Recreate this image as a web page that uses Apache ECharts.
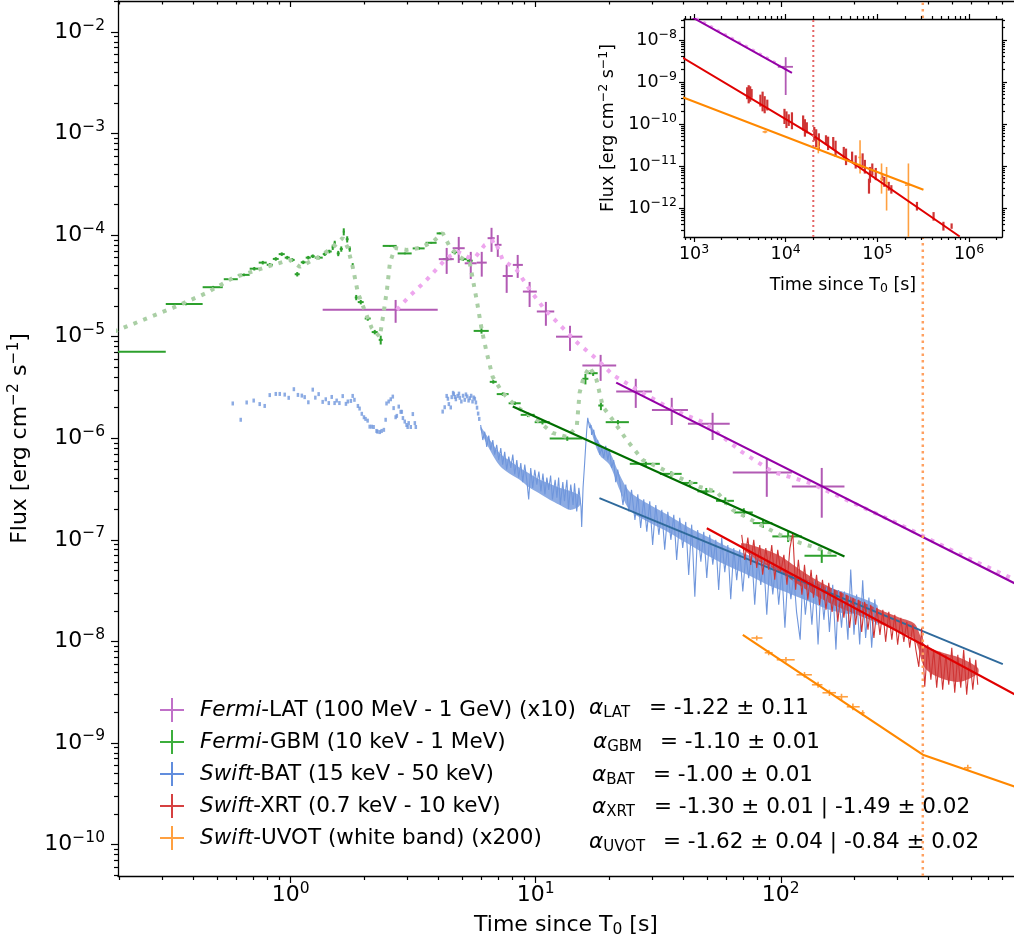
<!DOCTYPE html>
<html>
<head>
<meta charset="utf-8">
<script src="https://cdn.jsdelivr.net/npm/echarts@6/dist/echarts.min.js"></script>
<style>
  html, body { margin: 0; padding: 0; background: #fff; }
  #chart { width: 1014px; height: 945px; }
</style>
</head>
<body>
<div id="chart"></div>
<script>
const lg = Math.log10;
const FONT = 'DejaVu Sans';

// Fermi-LAT (x10): t, t_lo, t_hi, flux, flux_lo, flux_hi
const latPoints = [
  [2.68, 1.35, 3.98, 1.84e-5, 1.37e-5, 2.30e-5],
  [4.33, 4.02, 4.63, 5.8e-5, 4.15e-5, 7.48e-5],
  [4.85, 4.58, 5.13, 7.43e-5, 5.32e-5, 9.6e-5],
  [5.43, 5.13, 5.74, 5.28e-5, 3.7e-5, 6.84e-5],
  [6.02, 5.74, 6.31, 5.36e-5, 3.9e-5, 6.84e-5],
  [6.6, 6.36, 6.8, 9.33e-5, 6.84e-5, 1.18e-4],
  [7.0, 6.8, 7.25, 8.02e-5, 6.1e-5, 1.0e-4],
  [7.61, 7.33, 8.06, 3.96e-5, 2.7e-5, 5.09e-5],
  [8.44, 8.06, 8.86, 5.09e-5, 3.79e-5, 6.38e-5],
  [9.44, 8.86, 10.1, 2.78e-5, 1.96e-5, 3.46e-5],
  [11.0, 10.1, 11.9, 1.77e-5, 1.28e-5, 2.2e-5],
  [13.8, 12.1, 15.5, 1.0e-5, 7.24e-6, 1.28e-5],
  [18.4, 15.5, 21.3, 5.2e-6, 3.67e-6, 6.62e-6],
  [25.6, 21.3, 29.8, 2.88e-6, 1.99e-6, 3.85e-6],
  [35.9, 29.8, 41.8, 1.9e-6, 1.35e-6, 2.5e-6],
  [52.7, 41.8, 61.9, 1.39e-6, 9.6e-7, 1.78e-6],
  [87.7, 63.7, 111, 4.59e-7, 2.65e-7, 6.41e-7],
  [147, 111, 182, 3.35e-7, 1.65e-7, 5.1e-7],
  [1.0e4, 8.2e3, 1.2e4, 2.3e-9, 4.9e-10, 3.9e-9]
];

// Fermi-GBM: bin start, bin end, flux, relative error
const gbmBins = [
  [0.05, 0.309, 7.1e-6, 0.03], [0.309, 0.437, 2.1e-5, 0.03], [0.437, 0.528, 3.07e-5, 0.03],
  [0.533, 0.608, 3.68e-5, 0.03], [0.608, 0.68, 4.06e-5, 0.03], [0.68, 0.74, 4.67e-5, 0.04],
  [0.74, 0.798, 5.36e-5, 0.04], [0.798, 0.845, 5.1e-5, 0.04], [0.845, 0.893, 5.83e-5, 0.04],
  [0.893, 0.945, 6.5e-5, 0.04], [0.945, 0.991, 6.0e-5, 0.04], [0.991, 1.038, 5.7e-5, 0.04],
  [1.038, 1.088, 4.12e-5, 0.05], [1.099, 1.151, 5.4e-5, 0.04], [1.151, 1.207, 6.0e-5, 0.04],
  [1.207, 1.253, 6.2e-5, 0.04], [1.253, 1.351, 6.0e-5, 0.04], [1.351, 1.403, 6.5e-5, 0.04],
  [1.403, 1.47, 6.9e-5, 0.04], [1.47, 1.498, 7.6e-5, 0.06], [1.498, 1.526, 8.3e-5, 0.06],
  [1.541, 1.585, 6.6e-5, 0.06], [1.585, 1.631, 7.3e-5, 0.06], [1.631, 1.661, 1.08e-4, 0.08],
  [1.677, 1.723, 9.1e-5, 0.07], [1.723, 1.758, 7.3e-5, 0.06], [1.774, 1.807, 5.0e-5, 0.06],
  [1.825, 1.877, 2.43e-5, 0.06], [1.877, 1.985, 2.19e-5, 0.05], [2.004, 2.12, 1.51e-5, 0.05],
  [2.14, 2.265, 1.11e-5, 0.05], [2.286, 2.373, 9.3e-6, 0.1], [2.373, 2.706, 7.83e-5, 0.02],
  [2.731, 3.116, 6.6e-5, 0.02], [3.146, 3.52, 7.4e-5, 0.03], [3.55, 3.94, 8.4e-5, 0.02],
  [3.94, 4.17, 1.04e-4, 0.02], [4.17, 4.54, 5.8e-5, 0.04], [4.54, 4.80, 6.8e-5, 0.05],
  [4.85, 5.23, 5.8e-5, 0.04], [5.23, 5.53, 5.6e-5, 0.04], [5.58, 6.43, 1.14e-5, 0.06],
  [6.49, 6.93, 3.59e-6, 0.04], [6.93, 7.75, 2.72e-6, 0.04], [7.75, 8.68, 2.21e-6, 0.04],
  [8.68, 9.9, 1.70e-6, 0.05], [9.9, 11.4, 1.44e-6, 0.05], [11.4, 15.5, 9.93e-7, 0.05],
  [15.5, 16.4, 3.85e-6, 0.12], [16.4, 17.9, 4.37e-6, 0.06], [18.0, 18.9, 2.1e-6, 0.1],
  [19.3, 24.0, 1.44e-6, 0.05], [24.2, 32.1, 5.6e-7, 0.05], [32.1, 39.4, 4.46e-7, 0.06],
  [39.4, 45.7, 3.63e-7, 0.07], [45.7, 53.6, 3.0e-7, 0.08], [54.4, 64.4, 2.42e-7, 0.08],
  [64.4, 76.9, 1.86e-7, 0.1], [76.9, 92.4, 1.46e-7, 0.1], [92.4, 122, 1.08e-7, 0.12],
  [125, 169, 6.97e-8, 0.15]
];

// dotted guide curves: t, flux
const gbmTrend = [
  [0.19, 1.12e-5], [0.249, 1.46e-5], [0.33, 1.92e-5], [0.454, 2.7e-5], [0.58, 3.79e-5], [0.798, 4.87e-5],
  [0.99, 5.7e-5], [1.09, 4.87e-5], [1.28, 5.97e-5], [1.48, 7.48e-5], [1.63, 9.4e-5], [1.71, 7.48e-5],
  [1.79, 4.87e-5], [1.88, 2.7e-5], [2.0, 1.84e-5], [2.14, 1.22e-5], [2.31, 9.96e-6], [2.38, 1.57e-5],
  [2.47, 2.89e-5], [2.54, 5.32e-5], [2.66, 7.48e-5], [2.97, 7.15e-5], [3.36, 7.48e-5], [3.80, 8.57e-5],
  [4.17, 1.05e-4], [4.46, 7.66e-5], [4.9, 6.1e-5], [5.38, 5.32e-5], [5.74, 2.3e-5], [6.02, 1.17e-5],
  [6.31, 6.93e-6], [6.67, 4.02e-6], [7.33, 2.8e-6], [8.36, 2.04e-6], [10.1, 1.52e-6], [11.7, 1.13e-6],
  [13.4, 1.03e-6], [14.7, 1.29e-6], [15.1, 2.8e-6], [15.7, 4.02e-6], [16.6, 5.04e-6], [17.7, 3.76e-6],
  [18.8, 2.04e-6], [20.6, 1.52e-6], [23.5, 9.64e-7], [27.3, 6.12e-7], [32.1, 5.11e-7], [38.7, 4.07e-7],
  [46.7, 3.32e-7], [54.8, 2.97e-7], [63.7, 1.97e-7], [79.8, 1.47e-7], [99, 1.12e-7], [120, 9.33e-8],
  [148, 7.97e-8], [169, 7.11e-8]
];
const latTrend = [
  [2.71, 1.84e-5], [3.06, 2.52e-5], [3.52, 3.46e-5], [3.98, 4.75e-5], [4.33, 5.97e-5], [4.81, 6.84e-5],
  [5.28, 6.1e-5], [5.64, 5.97e-5], [6.19, 8.0e-5], [6.8, 8.97e-5], [7.33, 5.7e-5], [8.36, 4.54e-5],
  [9.46, 2.89e-5], [10.9, 1.84e-5], [12.3, 1.37e-5], [14.8, 8.69e-6], [17.9, 5.91e-6], [20.6, 4.21e-6],
  [27.3, 2.8e-6], [36.3, 1.9e-6], [49.0, 1.42e-6], [69.3, 7.35e-7], [92.7, 4.67e-7], [131, 3.64e-7],
  [300, 1.45e-7], [538, 7.2e-8], [893, 4.1e-8], [2000, 1.5e-8], [8700, 2.5e-9]
];

// Swift-BAT light curve: t, flux
const batEarly = [
  [0.58, 2.20e-6], [0.625, 1.52e-6], [0.661, 2.25e-6], [0.706, 2.35e-6], [0.747, 2.17e-6], [0.783, 2.08e-6],
  [0.821, 2.66e-6], [0.869, 2.73e-6], [0.902, 2.73e-6], [0.945, 2.69e-6], [0.981, 2.50e-6], [1.03, 3.04e-6],
  [1.07, 2.67e-6], [1.11, 2.63e-6], [1.14, 2.54e-6], [1.18, 2.26e-6], [1.23, 3.01e-6], [1.26, 2.51e-6],
  [1.30, 2.72e-6], [1.35, 2.28e-6], [1.39, 2.42e-6], [1.43, 2.22e-6], [1.47, 2.55e-6], [1.51, 2.22e-6],
  [1.54, 2.35e-6], [1.58, 2.22e-6], [1.63, 2.60e-6], [1.68, 2.18e-6], [1.71, 2.30e-6], [1.76, 2.33e-6],
  [1.79, 2.61e-6], [1.82, 2.39e-6], [1.88, 2.08e-6], [1.91, 1.96e-6], [1.95, 1.74e-6], [1.99, 1.61e-6],
  [2.02, 1.55e-6], [2.06, 1.49e-6], [2.10, 1.30e-6], [2.14, 1.30e-6], [2.18, 1.29e-6], [2.24, 1.18e-6],
  [2.26, 1.16e-6], [2.31, 1.15e-6], [2.35, 1.18e-6], [2.40, 1.21e-6], [2.44, 1.52e-6], [2.46, 2.20e-6],
  [2.51, 2.30e-6], [2.56, 2.42e-6], [2.61, 2.57e-6], [2.63, 1.98e-6], [2.68, 1.61e-6], [2.71, 1.66e-6],
  [2.76, 2.05e-6], [2.81, 1.82e-6], [2.84, 1.82e-6], [2.87, 1.58e-6], [2.92, 1.46e-6], [2.97, 1.35e-6],
  [3.0, 1.29e-6], [3.03, 1.41e-6], [3.09, 1.29e-6], [3.15, 1.73e-6], [3.21, 1.41e-6], [3.24, 1.29e-6],
  [4.17, 1.83e-6], [4.25, 2.02e-6], [4.33, 2.61e-6], [4.38, 2.45e-6], [4.42, 2.17e-6], [4.50, 2.01e-6],
  [4.54, 2.54e-6], [4.60, 2.80e-6], [4.63, 2.72e-6], [4.68, 2.55e-6], [4.72, 2.42e-6], [4.80, 2.61e-6],
  [4.86, 2.75e-6], [4.90, 2.50e-6], [4.97, 2.30e-6], [5.05, 2.62e-6], [5.13, 2.39e-6], [5.19, 2.70e-6],
  [5.25, 2.58e-6], [5.32, 2.35e-6], [5.38, 2.48e-6], [5.45, 2.62e-6], [5.52, 2.30e-6], [5.58, 2.52e-6],
  [5.64, 2.45e-6], [5.70, 2.25e-6], [5.76, 2.0e-6], [5.82, 1.75e-6], [5.88, 1.55e-6]
];
const batLc = [
  [5.96, 1.35e-6], [6.08, 9.6e-7], [6.19, 1.16e-6], [6.31, 8.2e-7], [6.43, 1.06e-6], [6.55, 7.7e-7],
  [6.68, 9.6e-7], [6.80, 6.9e-7], [6.93, 8.6e-7], [7.06, 6.1e-7], [7.20, 8.0e-7], [7.33, 5.5e-7],
  [7.47, 7.35e-7], [7.61, 4.9e-7], [7.76, 6.6e-7], [7.91, 5.1e-7], [8.06, 6.9e-7], [8.21, 4.4e-7],
  [8.37, 6.1e-7], [8.52, 4.1e-7], [8.69, 5.7e-7], [8.85, 3.7e-7], [9.02, 5.5e-7], [9.19, 3.9e-7],
  [9.36, 2.5e-7], [9.54, 5.1e-7], [9.72, 3.25e-7], [9.91, 4.9e-7], [10.1, 3.5e-7], [10.3, 4.7e-7],
  [10.5, 3.0e-7], [10.7, 4.5e-7], [10.9, 2.8e-7], [11.1, 4.1e-7], [11.3, 3.1e-7], [11.5, 4.3e-7],
  [11.7, 2.5e-7], [12.0, 3.9e-7], [12.2, 2.6e-7], [12.4, 4.1e-7], [12.6, 2.2e-7], [12.9, 3.7e-7],
  [13.1, 2.4e-7], [13.4, 3.9e-7], [13.6, 2.0e-7], [13.9, 3.5e-7], [14.2, 2.2e-7], [14.4, 3.6e-7],
  [14.7, 1.9e-7], [15.0, 3.25e-7], [15.3, 2.1e-7], [15.4, 1.34e-7], [15.6, 3.25e-7], [15.85, 5.9e-7],
  [16.0, 8.6e-7], [16.15, 1.21e-6], [16.3, 1.59e-6], [16.45, 1.52e-6], [16.6, 1.26e-6], [16.8, 1.35e-6],
  [16.9, 1.08e-6], [17.25, 1.21e-6], [17.6, 8.6e-7], [17.9, 9.6e-7], [18.25, 6.9e-7], [18.6, 8.0e-7],
  [18.95, 6.4e-7], [19.3, 8.4e-7], [19.7, 6.1e-7], [20.0, 7.7e-7], [20.4, 5.1e-7], [20.8, 6.1e-7],
  [21.2, 3.7e-7], [21.6, 4.9e-7], [22.0, 3.9e-7], [22.7, 2.2e-7], [23.3, 3.5e-7], [24.0, 1.9e-7],
  [24.6, 3.1e-7], [25.4, 1.57e-7], [26.1, 2.8e-7], [26.8, 1.31e-7], [27.6, 2.5e-7], [28.4, 1.2e-7],
  [29.2, 2.4e-7], [30.0, 8.9e-8], [30.9, 2.2e-7], [31.8, 1.12e-7], [32.7, 1.97e-7], [33.6, 8.0e-8],
  [34.6, 1.89e-7], [35.6, 1.0e-7], [36.6, 1.76e-7], [37.6, 6.35e-8], [38.7, 1.65e-7], [39.8, 8.3e-8],
  [40.95, 1.5e-7], [42.1, 4.5e-8], [43.3, 1.41e-7], [44.6, 2.75e-8], [45.8, 1.25e-7], [47.2, 6.1e-8],
  [48.5, 1.2e-7], [49.9, 4.2e-8], [51.3, 1.12e-7], [52.8, 5.7e-8], [54.3, 1.0e-7], [55.8, 3.2e-8],
  [57.4, 1.05e-7], [59.1, 4.8e-8], [60.8, 8.9e-8], [62.5, 2.6e-8], [64.3, 8.3e-8], [66.1, 4.0e-8],
  [68.0, 8.0e-8], [70.0, 3.1e-8], [72.0, 7.1e-8], [74.0, 4.2e-8], [76.1, 7.6e-8], [78.3, 2.3e-8],
  [80.5, 6.65e-8], [82.9, 3.6e-8], [85.2, 6.35e-8], [87.7, 1.83e-8], [90.2, 6.1e-8], [92.8, 2.9e-8],
  [95.4, 5.7e-8], [98.1, 2.3e-8], [101, 5.1e-8], [104, 1.36e-8], [107, 4.8e-8], [110, 2.6e-8],
  [113, 4.5e-8], [116, 1.95e-8], [120, 1.04e-8], [123, 4.2e-8], [126, 1.83e-8], [130, 3.9e-8],
  [134, 1.46e-8], [138, 4.0e-8], [142, 9.3e-9], [146, 3.6e-8], [150, 1.63e-8], [154, 3.4e-8],
  [158, 1.24e-8], [163, 3.6e-8], [168, 8.3e-9], [172, 3.2e-8], [177, 1.36e-8], [182, 3.1e-8],
  [188, 1.04e-8], [193, 5.1e-8], [199, 1.16e-8], [204, 2.9e-8], [210, 9.3e-9], [216, 4.0e-8],
  [222, 1.08e-8], [229, 2.7e-8], [235, 8.65e-9], [242, 2.6e-8], [247, 1.46e-8]
];
// dense core of the BAT light curve: t, flux_lo, flux_hi
const batCoreA = [
  [5.96, 1.2e-6, 1.3e-6], [6.49, 7.69e-7, 9.64e-7], [7.13, 5.35e-7, 7.1e-7], [7.83, 4.47e-7, 6.0e-7],
  [8.60, 3.90e-7, 5.12e-7], [9.45, 3.25e-7, 4.47e-7], [10.4, 2.84e-7, 3.90e-7], [11.4, 2.48e-7, 3.56e-7],
  [12.5, 2.21e-7, 3.25e-7], [13.8, 1.97e-7, 3.03e-7], [15.1, 2.16e-7, 2.71e-7]
];
const batCoreB = [
  [16.6, 1.32e-6, 1.45e-6], [18.2, 6.87e-7, 9.0e-7], [20.0, 5.47e-7, 7.35e-7], [22.0, 3.10e-7, 4.36e-7],
  [24.2, 1.97e-7, 2.97e-7], [29.2, 1.47e-7, 2.21e-7], [35.2, 1.17e-7, 1.72e-7], [42.5, 8.93e-8, 1.31e-7],
  [51.3, 6.8e-8, 1.05e-7], [61.9, 5.42e-8, 8.34e-8], [74.7, 4.43e-8, 6.96e-8], [90.2, 3.52e-8, 5.67e-8],
  [109, 2.94e-8, 4.73e-8], [131, 2.45e-8, 3.95e-8], [158, 2.05e-8, 3.37e-8], [191, 1.87e-8, 2.94e-8],
  [247, 2.05e-8, 2.29e-8]
];

// Swift-XRT light curve: t, flux (prompt window) and late orbits: t, flux_lo, flux_hi
const xrtLc = [
  [69.3, 1.12e-7], [71.3, 6.35e-8], [73.4, 1.05e-7], [75.4, 5.67e-8], [77.6, 1.0e-7], [79.8, 5.3e-8],
  [82.1, 8.9e-8], [84.4, 4.53e-8], [86.9, 8.3e-8], [89.3, 5.07e-8], [91.9, 8.9e-8], [94.5, 4.04e-8],
  [97.2, 7.97e-8], [100, 4.84e-8], [103, 7.12e-8], [106, 3.61e-8], [109, 8.3e-8], [112, 1.17e-7],
  [115, 3.22e-8], [118, 6.35e-8], [122, 2.88e-8], [125, 5.67e-8], [129, 2.57e-8], [133, 5.07e-8],
  [136, 2.69e-8], [140, 4.53e-8], [144, 2.29e-8], [148, 4.04e-8], [153, 2.05e-8], [157, 3.78e-8],
  [162, 1.95e-8], [166, 3.22e-8], [171, 1.56e-8], [176, 3.08e-8], [181, 1.71e-8], [186, 2.88e-8],
  [191, 1.36e-8], [197, 2.69e-8], [202, 1.46e-8], [208, 2.57e-8], [214, 1.24e-8], [220, 2.45e-8],
  [227, 1.30e-8], [233, 2.29e-8], [240, 1.08e-8], [247, 2.14e-8], [254, 1.16e-8], [261, 2.05e-8],
  [268, 9.9e-9], [276, 1.95e-8], [284, 1.04e-8], [292, 1.83e-8], [300, 9.26e-9], [309, 1.71e-8],
  [318, 9.9e-9], [327, 1.56e-8], [336, 8.65e-9], [346, 1.46e-8], [356, 8.27e-9], [366, 5.62e-9],
  [376, 1.36e-8], [387, 3.57e-9], [398, 9.26e-9], [410, 4.19e-9], [421, 8.27e-9], [433, 3.49e-9],
  [446, 7.9e-9], [458, 3.34e-9], [472, 7.38e-9], [485, 3.74e-9], [499, 8.65e-9], [513, 3.12e-9],
  [528, 7.38e-9], [543, 3.49e-9], [558, 8.27e-9], [574, 2.98e-9], [591, 6.9e-9], [608, 3.34e-9],
  [625, 6.59e-9], [637, 3.74e-9]
];
const xrtCore = [
  [69.3, 8.34e-8, 9.3e-8], [82.1, 6.08e-8, 8.34e-8], [99, 4.84e-8, 6.96e-8], [120, 3.52e-8, 5.07e-8],
  [144, 2.69e-8, 3.86e-8], [174, 2.14e-8, 3.08e-8], [210, 1.79e-8, 2.51e-8], [254, 1.49e-8, 2.05e-8],
  [306, 1.24e-8, 1.71e-8], [352, 1.04e-8, 1.49e-8], [387, 5.5e-9, 9.26e-9], [446, 4.38e-9, 7.9e-9],
  [538, 4.0e-9, 6.9e-9], [637, 4.8e-9, 5.5e-9]
];
const xrtLate = [
  [3.8e3, 3.9e-10, 7.5e-10], [3.95e3, 3.1e-10, 8.4e-10], [4.1e3, 3.4e-10, 7.9e-10], [4.25e3, 4.2e-10, 6.8e-10],
  [5.3e3, 2.6e-10, 5.0e-10], [5.6e3, 2.0e-10, 5.9e-10], [5.9e3, 1.8e-10, 4.6e-10], [6.3e3, 2.1e-10, 3.8e-10],
  [9.7e3, 1.0e-10, 2.3e-10], [1.02e4, 8.0e-11, 2.0e-10], [1.08e4, 9.0e-11, 1.7e-10], [1.17e4, 7.5e-11, 1.9e-10],
  [1.55e4, 7.0e-11, 1.6e-10], [1.62e4, 5.0e-11, 1.3e-10], [1.7e4, 6.0e-11, 1.1e-10],
  [2.05e4, 4.0e-11, 8.5e-11], [2.15e4, 2.8e-11, 7.5e-11], [2.3e4, 2.4e-11, 6.0e-11],
  [2.75e4, 3.2e-11, 5.4e-11], [2.9e4, 2.4e-11, 5.0e-11], [3.3e4, 2.5e-11, 4.9e-11], [3.5e4, 1.65e-11, 4.0e-11],
  [4.3e4, 1.5e-11, 2.85e-11], [4.55e4, 1.05e-11, 2.6e-11], [5.3e4, 1.2e-11, 2.2e-11], [5.8e4, 8.7e-12, 1.8e-11],
  [6.9e4, 9.0e-12, 2.0e-11], [7.3e4, 6.6e-12, 1.4e-11], [8.1e4, 2.2e-12, 5.0e-12], [8.3e4, 4.0e-12, 9.5e-12],
  [8.8e4, 6.0e-12, 1.15e-11], [9.6e4, 4.6e-12, 9.0e-12], [1.13e5, 4.5e-12, 6.0e-12], [1.19e5, 3.2e-12, 5.5e-12],
  [1.33e5, 2.6e-12, 4.2e-12], [1.42e5, 2.2e-12, 3.5e-12], [2.7e5, 8.7e-13, 1.4e-12], [4.1e5, 5.0e-13, 8.0e-13],
  [5.25e5, 2.9e-13, 4.7e-13], [6.45e5, 3.2e-13, 4.3e-13]
];

// Swift-UVOT (x200): t, t_lo, t_hi, flux, flux_lo, flux_hi
const uvotPoints = [
  [79.8, 75.9, 84.2, 1.08e-8, 1.02e-8, 1.14e-8], [89.3, 86, 92.7, 7.73e-9, 7.3e-9, 8.2e-9],
  [105, 96.3, 114, 6.59e-9, 6.2e-9, 7.0e-9], [125, 116, 134, 4.69e-9, 4.4e-9, 5.0e-9],
  [142, 134, 148, 3.74e-9, 3.5e-9, 4.0e-9], [158, 148, 168, 3.12e-9, 2.9e-9, 3.35e-9],
  [177, 168, 188, 2.85e-9, 2.65e-9, 3.05e-9], [197, 186, 210, 2.27e-9, 2.1e-9, 2.45e-9],
  [216, 210, 220, 1.98e-9, 1.85e-9, 2.1e-9], [580, 560, 600, 5.7e-10, 5.3e-10, 6.1e-10],
  [5.96e3, 5.6e3, 6.3e3, 6.5e-11, 6.0e-11, 7.0e-11], [2.27e4, 2.2e4, 2.35e4, 2.9e-11, 2.0e-11, 4.1e-11],
  [6.47e4, 6.2e4, 6.7e4, 1.6e-11, 6.6e-12, 4.1e-11], [1.11e5, 1.07e5, 1.15e5, 5.0e-12, 2.2e-12, 1.15e-11],
  [1.26e5, 1.22e5, 1.3e5, 4.0e-12, 8.7e-13, 9.5e-12], [2.18e5, 2.0e5, 2.3e5, 3.5e-12, 1.0e-13, 1.15e-11]
];

// power-law fits (end points / break points): t, flux
const latFit = [[21.3, 3.53e-6], [1.17e4, 1.66e-9]];
const gbmFit = [[8.06, 2.05e-6], [182, 6.86e-8]];
const batFit = [[18.2, 2.57e-7], [806, 5.98e-9]];
const xrtFit = [[49.9, 1.30e-7], [2.0e4, 5.3e-11], [7.9e5, 2.1e-13]];
const uvotFit = [[70, 1.16e-8], [380, 7.66e-10], [3.18e5, 2.73e-12]];
const uvotBreak = 380;
const xrtBreak = 2.0e4;

const legendNames = ['LAT', 'GBM', 'BAT', 'XRT', 'UVOT'];
const legendLabels = [
  '{i|Fermi}{n|-LAT (100 MeV - 1 GeV) (x10)}',
  '{i|Fermi}{n|-GBM (10 keV - 1 MeV)}',
  '{i|Swift}{n|-BAT (15 keV - 50 keV)}',
  '{i|Swift}{n|-XRT (0.7 keV - 10 keV)}',
  '{i|Swift}{n|-UVOT (white band) (x200)}'
];
const alphaSubs = ['LAT', 'GBM', 'BAT', 'XRT', 'UVOT'];
const alphaValues = [
  '= -1.22 \u00b1 0.11',
  '= -1.10 \u00b1 0.01',
  '= -1.00 \u00b1 0.01',
  '= -1.30 \u00b1 0.01 | -1.49 \u00b1 0.02',
  '= -1.62 \u00b1 0.04 | -0.84 \u00b1 0.02'
];

const mainXTicks = [0, 1, 2];
const mainYTicks = [-2, -3, -4, -5, -6, -7, -8, -9, -10];
const insetXTicks = [3, 4, 5, 6];
const insetYTicks = [-8, -9, -10, -11, -12];

// ---- helpers ----
const C = {
  lat: '#b25ab4', latFit: '#9400a6', latDot: '#eea6ee',
  gbm: '#2ca02c', gbmFit: '#006e00', gbmDot: '#aacfa5',
  bat: '#6f96dc', batFit: '#2f6a9c',
  xrt: '#cf3434', xrtFit: '#e00000',
  uvot: '#ffa040', uvotFit: '#ff8800'
};
const legendColors = ['#c070c8', '#3cae3c', '#3a70d4', '#d64040', '#ffa040'];

const X_MIN = -0.705, X_MAX = 2.952, Y_MIN = -10.31, Y_MAX = -1.695;
const IX_MIN = 2.891, IX_MAX = 6.359, IY_MIN = -12.69, IY_MAX = -7.5;

const toXY = arr => arr.map(p => [lg(p[0]), lg(p[1])]);
const toErr = arr => arr.map(p => p.map(v => lg(v)));
const toBand = arr => arr.map(p => [lg(p[0]), lg(p[1]), lg(p[2])]);
const gbmErr = gbmBins.map(([a, b, f, e]) => {
  const t = (a + b) / 2;
  return [lg(t), lg(a), lg(b), lg(f), lg(f * (1 - e)), lg(f * (1 + e))];
});
const xrtBars = xrtLate.map(([t, lo, hi]) => [lg(t), lg(t), lg(t), lg(Math.sqrt(lo * hi)), lg(lo), lg(hi)]);

function minorTicks(e0, e1) {
  const v = [];
  for (let e = e0; e <= e1; e++) for (let k = 2; k < 10; k++) v.push(e + Math.log10(k));
  return v;
}
function powLabel(v) {
  const e = Math.round(v);
  return '{b|10}{s|' + (e < 0 ? '\u2212' + (-e) : String(e)) + '}';
}
function richPow(size, sup, raise) {
  return {
    b: { fontFamily: FONT, fontSize: size, color: '#000' },
    s: { fontFamily: FONT, fontSize: sup, color: '#000', padding: [0, 0, raise, 0] }
  };
}

function axis(o) {
  return {
    type: 'value', gridIndex: o.grid, position: o.pos, min: o.min, max: o.max, z: o.z || 0,
    splitLine: { show: false },
    axisLine: { show: !!o.line, onZero: false, lineStyle: { color: '#000', width: 1.3 } },
    axisTick: { show: true, inside: !!o.inside, length: o.len, customValues: o.ticks,
      lineStyle: { color: '#000', width: 1.2 } },
    axisLabel: o.labels
      ? { show: true, customValues: o.ticks, margin: o.margin, formatter: powLabel, rich: o.rich }
      : { show: false },
    name: o.name || '', nameLocation: 'middle', nameGap: o.nameGap || 0,
    nameTextStyle: o.nameStyle || {}
  };
}

function errorBars(lw) {
  return function (params, api) {
    const x = api.value(0), y = api.value(3);
    const l = api.coord([api.value(1), y]), r = api.coord([api.value(2), y]);
    const b = api.coord([x, api.value(4)]), t = api.coord([x, api.value(5)]);
    const style = { stroke: api.visual('color'), lineWidth: lw };
    const kids = [{ type: 'line', shape: { x1: b[0], y1: b[1], x2: t[0], y2: t[1] }, style }];
    if (r[0] - l[0] > 0.5) kids.push({ type: 'line', shape: { x1: l[0], y1: l[1], x2: r[0], y2: r[1] }, style });
    return { type: 'group', children: kids };
  };
}

function errSeries(name, data, color, lw, xi, yi, z) {
  return {
    type: 'custom', name, data, xAxisIndex: xi, yAxisIndex: yi, z, clip: true,
    encode: { x: [0, 1, 2], y: [3, 4, 5] },
    itemStyle: { color }, renderItem: errorBars(lw), silent: true
  };
}
function lineSeries(name, data, color, width, xi, yi, z, dash) {
  return {
    type: 'line', name, data, xAxisIndex: xi, yAxisIndex: yi, z, clip: true,
    showSymbol: false, symbol: 'none', silent: true,
    itemStyle: { color },
    lineStyle: { color, width, type: dash || 'solid', cap: 'butt' }
  };
}
// filled envelope (lo..hi) drawn as one polygon from the first item
function bandSeries(name, rows, color, opacity) {
  return {
    type: 'custom', name, data: rows, xAxisIndex: 0, yAxisIndex: 0, z: 2, clip: true, silent: true,
    encode: { x: 0, y: [1, 2] }, itemStyle: { color },
    renderItem: function (params, api) {
      if (params.dataIndex !== 0) return null;
      const top = rows.map(r => api.coord([r[0], r[2]]));
      const bot = rows.map(r => api.coord([r[0], r[1]])).reverse();
      return { type: 'polygon', shape: { points: top.concat(bot), smooth: 0.3 },
        style: { fill: color, opacity } };
    }
  };
}

const nameMain = {
  fontFamily: FONT, fontSize: 22, color: '#000',
  rich: {
    n: { fontFamily: FONT, fontSize: 22, color: '#000' },
    p: { fontFamily: FONT, fontSize: 15.5, color: '#000', padding: [0, 0, 12, 0] },
    u: { fontFamily: FONT, fontSize: 15.5, color: '#000', padding: [9, 0, 0, 0] }
  }
};
const nameInset = {
  fontFamily: FONT, fontSize: 17.5, color: '#000',
  rich: {
    n: { fontFamily: FONT, fontSize: 17.5, color: '#000' },
    p: { fontFamily: FONT, fontSize: 12.5, color: '#000', padding: [0, 0, 10, 0] },
    u: { fontFamily: FONT, fontSize: 12.5, color: '#000', padding: [7, 0, 0, 0] }
  }
};
const timeName = '{n|Time since T}{u|0}{n| [s]}';
const fluxName = '{n|Flux [erg cm}{p|\u22122}{n| s}{p|\u22121}{n|]}';

const option = {
  animation: false,
  backgroundColor: '#fff',
  grid: [
    { left: 118, right: 0, top: 1, bottom: 69, show: false, outerBoundsMode: 'none' },
    { left: 684, top: 19, width: 318, height: 218, show: true, backgroundColor: '#fff',
      borderWidth: 0, z: 10, outerBoundsMode: 'none' }
  ],
  xAxis: [
    axis({ grid: 0, pos: 'bottom', min: X_MIN, max: X_MAX, line: true, len: 7, ticks: mainXTicks,
      labels: true, margin: 5, rich: richPow(22, 15.5, 13),
      name: timeName, nameGap: 37, nameStyle: nameMain }),
    axis({ grid: 0, pos: 'bottom', min: X_MIN, max: X_MAX, len: 4, ticks: minorTicks(-1, 2) }),
    axis({ grid: 0, pos: 'top', min: X_MIN, max: X_MAX, line: true, inside: true, len: 6, ticks: mainXTicks }),
    axis({ grid: 0, pos: 'top', min: X_MIN, max: X_MAX, inside: true, len: 3.5, ticks: minorTicks(-1, 2) }),
    axis({ grid: 1, pos: 'bottom', min: IX_MIN, max: IX_MAX, line: true, len: 5, ticks: insetXTicks, z: 11,
      labels: true, margin: 6, rich: richPow(17.5, 12.5, 10),
      name: timeName, nameGap: 38, nameStyle: nameInset }),
    axis({ grid: 1, pos: 'bottom', min: IX_MIN, max: IX_MAX, len: 3, ticks: minorTicks(2, 6), z: 11 }),
    axis({ grid: 1, pos: 'top', min: IX_MIN, max: IX_MAX, line: true, len: 5, ticks: insetXTicks, z: 11 }),
    axis({ grid: 1, pos: 'top', min: IX_MIN, max: IX_MAX, len: 3, ticks: minorTicks(2, 6), z: 11 })
  ],
  yAxis: [
    axis({ grid: 0, pos: 'left', min: Y_MIN, max: Y_MAX, line: true, len: 7, ticks: mainYTicks,
      labels: true, margin: 13, rich: richPow(22, 15.5, 13),
      name: fluxName, nameGap: 84, nameStyle: nameMain }),
    axis({ grid: 0, pos: 'left', min: Y_MIN, max: Y_MAX, len: 4, ticks: minorTicks(-11, -2) }),
    axis({ grid: 1, pos: 'left', min: IY_MIN, max: IY_MAX, line: true, len: 5, ticks: insetYTicks, z: 11,
      labels: true, margin: 7, rich: richPow(17.5, 12.5, 10),
      name: fluxName, nameGap: 64, nameStyle: nameInset }),
    axis({ grid: 1, pos: 'left', min: IY_MIN, max: IY_MAX, len: 3, ticks: minorTicks(-13, -8), z: 11 }),
    axis({ grid: 1, pos: 'right', min: IY_MIN, max: IY_MAX, line: true, len: 5, ticks: insetYTicks, z: 11 }),
    axis({ grid: 1, pos: 'right', min: IY_MIN, max: IY_MAX, len: 3, ticks: minorTicks(-13, -8), z: 11 })
  ],
  legend: {
    orient: 'vertical', left: 160, top: 698, padding: 0, itemGap: 8,
    itemWidth: 24, itemHeight: 24, selectedMode: false,
    icon: 'path://M0,11h24v2h-24z M11,0h2v24h-2z',
    data: legendNames.map((n, i) => ({ name: n, itemStyle: { color: legendColors[i] } })),
    formatter: name => legendLabels[legendNames.indexOf(name)],
    textStyle: {
      fontFamily: FONT, fontSize: 21.5, color: '#000', padding: [0, 0, 0, 11],
      rich: {
        i: { fontFamily: FONT, fontSize: 21.5, fontStyle: 'italic', color: '#000' },
        n: { fontFamily: FONT, fontSize: 21.5, color: '#000' }
      }
    }
  },
  graphic: [],
  series: [
    // main panel
    { type: 'scatter', name: 'BAT', data: toXY(batEarly), xAxisIndex: 0, yAxisIndex: 0, z: 2,
      symbol: 'rect', symbolSize: [2.5, 4], itemStyle: { color: C.bat }, silent: true },
    bandSeries('batCoreA', toBand(batCoreA), C.bat, 0.8),
    bandSeries('batCoreB', toBand(batCoreB), C.bat, 0.8),
    lineSeries('BAT', toXY(batLc), C.bat, 1.1, 0, 0, 2),
    lineSeries('batFit', toXY(batFit), C.batFit, 2, 0, 0, 2),
    lineSeries('gbmTrend', toXY(gbmTrend), C.gbmDot, 4, 0, 0, 2, [4, 6.5]),
    lineSeries('latTrend', toXY(latTrend), C.latDot, 4, 0, 0, 2, [4, 6.5]),
    errSeries('GBM', gbmErr, C.gbm, 2, 0, 0, 2),
    errSeries('LAT', toErr(latPoints), C.lat, 2, 0, 0, 2),
    bandSeries('xrtCore', toBand(xrtCore), C.xrt, 0.8),
    lineSeries('XRT', toXY(xrtLc), C.xrt, 1.1, 0, 0, 2),
    errSeries('UVOT', toErr(uvotPoints), C.uvot, 1.6, 0, 0, 2),
    lineSeries('gbmFit', toXY(gbmFit), C.gbmFit, 2.2, 0, 0, 2),
    lineSeries('latFit', toXY(latFit), C.latFit, 2.2, 0, 0, 2),
    lineSeries('xrtFit', toXY(xrtFit), C.xrtFit, 2.2, 0, 0, 2),
    lineSeries('uvotFit', toXY(uvotFit), C.uvotFit, 2.2, 0, 0, 2),
    lineSeries('uvotBreak', [[lg(uvotBreak), Y_MIN], [lg(uvotBreak), Y_MAX]], '#ffa060', 2.5, 0, 0, 2, [2.5, 4]),
    // inset panel
    lineSeries('latTrend', toXY(latTrend), C.latDot, 3, 4, 2, 12, [3, 5]),
    lineSeries('latFit', toXY(latFit), C.latFit, 2, 4, 2, 12),
    errSeries('LAT', toErr(latPoints), C.lat, 1.8, 4, 2, 12),
    errSeries('XRT', xrtBars, C.xrt, 2.2, 4, 2, 12),
    errSeries('UVOT', toErr(uvotPoints), C.uvot, 1.6, 4, 2, 12),
    lineSeries('xrtFit', toXY(xrtFit), C.xrtFit, 2, 4, 2, 12),
    lineSeries('uvotFit', toXY(uvotFit), C.uvotFit, 2, 4, 2, 12),
    lineSeries('xrtBreak', [[lg(xrtBreak), IY_MIN], [lg(xrtBreak), IY_MAX]], '#e46464', 2, 4, 2, 12, [2, 3])
  ]
};

// slope annotations
const alphaX = [589, 593, 592, 592, 589];
const eqX = [649, 660, 653, 654, 663];
const rowY = [708, 742, 775, 807, 842];
alphaSubs.forEach((s, i) => {
  option.graphic.push({
    type: 'text', x: alphaX[i], y: rowY[i], silent: true,
    style: {
      text: '{a|\u03b1}{s|' + s + '}', verticalAlign: 'middle', fill: '#000',
      rich: {
        a: { fontFamily: FONT, fontSize: 21.5, fontStyle: 'italic', fill: '#000' },
        s: { fontFamily: FONT, fontSize: 15, fill: '#000', padding: [10, 0, 0, 0] }
      }
    }
  });
  option.graphic.push({
    type: 'text', x: eqX[i], y: rowY[i], silent: true,
    style: { text: alphaValues[i], verticalAlign: 'middle', fill: '#000', fontFamily: FONT, fontSize: 21.5 }
  });
});

const chart = echarts.init(document.getElementById('chart'), null, { renderer: 'canvas' });
chart.setOption(option);
</script>
</body>
</html>
